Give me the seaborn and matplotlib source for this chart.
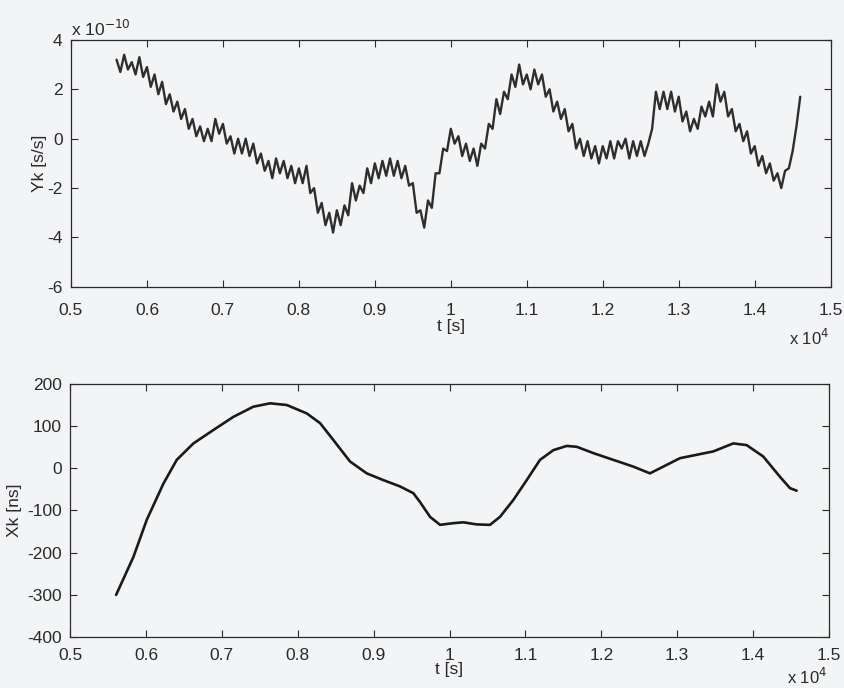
import matplotlib
matplotlib.use("Agg")
import matplotlib.pyplot as plt
import seaborn as sns
import pandas as pd

# top panel: Yk [s/s] in units of 1e-10, sampled every 50 s from 5600 s
YK_T0 = 5600
YK_DT = 50
YK = [
    3.2, 2.7, 3.4, 2.8, 3.1, 2.6, 3.3, 2.5, 2.9, 2.1,
    2.6, 1.8, 2.3, 1.4, 1.8, 1.1, 1.5, 0.8, 1.2, 0.4,
    0.8, 0.1, 0.5, -0.1, 0.4, -0.1, 0.8, 0.2, 0.6, -0.2,
    0.1, -0.6, 0.0, -0.6, 0.0, -0.7, -0.2, -1.0, -0.6, -1.3,
    -0.9, -1.6, -0.8, -1.4, -0.9, -1.6, -1.1, -1.8, -1.2, -1.8,
    -1.1, -2.2, -2.0, -3.0, -2.6, -3.5, -3.0, -3.8, -2.9, -3.5,
    -2.7, -3.1, -1.8, -2.5, -1.9, -2.2, -1.2, -1.8, -1.0, -1.6,
    -0.9, -1.5, -0.8, -1.5, -0.9, -1.6, -1.1, -1.9, -1.8, -3.0,
    -2.9, -3.6, -2.5, -2.8, -1.4, -1.4, -0.4, -0.5, 0.4, -0.2,
    0.1, -0.7, -0.2, -0.9, -0.4, -1.1, -0.2, -0.4, 0.6, 0.4,
    1.6, 1.0, 1.9, 1.6, 2.6, 2.1, 3.0, 2.2, 2.6, 2.0,
    2.8, 2.2, 2.6, 1.7, 2.0, 1.1, 1.5, 0.8, 1.2, 0.3,
    0.6, -0.4, 0.0, -0.7, -0.1, -0.8, -0.3, -1.0, -0.3, -0.8,
    -0.1, -0.8, -0.1, -0.4, 0.0, -0.8, -0.1, -0.7, -0.1, -0.7,
    -0.2, 0.4, 1.9, 1.2, 1.9, 1.2, 1.9, 1.1, 1.7, 0.7,
    1.1, 0.3, 0.8, 0.4, 1.3, 0.9, 1.5, 0.9, 2.2, 1.5,
    1.9, 0.9, 1.2, 0.3, 0.6, -0.1, 0.3, -0.6, -0.3, -1.1,
    -0.7, -1.4, -1.0, -1.7, -1.4, -2.0, -1.3, -1.2, -0.5, 0.5,
    1.7,
]

# bottom panel: Xk [ns]
XK_T = [5606, 5834, 6010, 6230, 6405, 6625, 6890, 7152, 7415, 7635,
        7855, 8119, 8294, 8469, 8689, 8909, 9128, 9348, 9523, 9611,
        9743, 9875, 10050, 10182, 10358, 10534, 10665, 10841, 11017, 11192,
        11368, 11544, 11676, 11895, 12158, 12422, 12641, 12817, 13037, 13256,
        13476, 13739, 13915, 14134, 14354, 14486, 14574]
XK = [-300, -210, -122, -36, 20, 59, 91, 122, 146, 154,
      150, 130, 107, 67, 16, -12, -28, -43, -59, -80,
      -115, -134, -130, -128, -133, -134, -115, -75, -28, 20,
      43, 53, 51, 36, 20, 4, -12, 4, 24, 32,
      40, 59, 55, 28, -20, -47, -53]

X_TICKS = [5000, 6000, 7000, 8000, 9000, 10000, 11000, 12000, 13000, 14000, 15000]
X_LABELS = ["0.5", "0.6", "0.7", "0.8", "0.9", "1", "1.1", "1.2", "1.3", "1.4", "1.5"]
YK_TICKS = [-6, -4, -2, 0, 2, 4]
XK_TICKS = [-400, -300, -200, -100, 0, 100, 200]

sns.set_theme(style="ticks")
plt.rcParams["font.family"] = ["Liberation Sans", "DejaVu Sans"]
plt.rcParams["axes.unicode_minus"] = False
BG = "#f3f4f6"
INK = "#2a2a2a"
FS = 12.5

yk_t = [YK_T0 + i * YK_DT for i in range(len(YK))]
df_top = pd.DataFrame({"t": yk_t, "y": YK})
df_bot = pd.DataFrame({"t": XK_T, "x": XK})

fig = plt.figure(figsize=(8.45, 6.88), dpi=100, facecolor=BG)
ax1 = fig.add_axes([0.084, 0.583, 0.899, 0.359])
ax2 = fig.add_axes([0.083, 0.074, 0.898, 0.368])

sns.lineplot(data=df_top, x="t", y="y", ax=ax1, color="#2e2e2e", linewidth=1.7, sort=False)
sns.lineplot(data=df_bot, x="t", y="x", ax=ax2, color="#1a1a1a", linewidth=1.9, sort=False)

for ax, yt, xpad in ((ax1, YK_TICKS, 11.5), (ax2, XK_TICKS, 7.5)):
    ax.set_facecolor(BG)
    ax.set_xlim(5000, 15000)
    ax.set_ylim(yt[0], yt[-1])
    ax.set_xticks(X_TICKS)
    ax.set_xticklabels(X_LABELS)
    ax.set_yticks(yt)
    ax.tick_params(direction="in", top=True, right=True, length=5, width=0.8,
                   colors=INK, labelsize=FS, pad=6)
    ax.tick_params(axis="x", pad=xpad)
    for s in ax.spines.values():
        s.set_color(INK)
        s.set_linewidth(0.9)
    ax.set_xlabel("t [s]", fontsize=FS, color=INK)

ax1.set_ylabel("Yk [s/s]", fontsize=FS, color=INK)
ax2.set_ylabel("Xk [ns]", fontsize=FS, color=INK)
ax1.xaxis.set_label_coords(0.5, -0.128)
ax2.xaxis.set_label_coords(0.5, -0.1)
ax1.yaxis.set_label_coords(-0.031, 0.5)
ax2.yaxis.set_label_coords(-0.064, 0.5)

ax1.text(0.0, 1.005, r"x 10$^{-10}$", transform=ax1.transAxes, fontsize=FS,
         color=INK, ha="left", va="bottom")
ax1.text(0.998, -0.206, r"x 10$^{4}$", transform=ax1.transAxes, fontsize=12,
         color=INK, ha="right", va="center")
ax2.text(0.998, -0.196, r"x 10$^{4}$", transform=ax2.transAxes, fontsize=12,
         color=INK, ha="right", va="bottom")

fig.savefig("out.png", dpi=100, facecolor=BG)
